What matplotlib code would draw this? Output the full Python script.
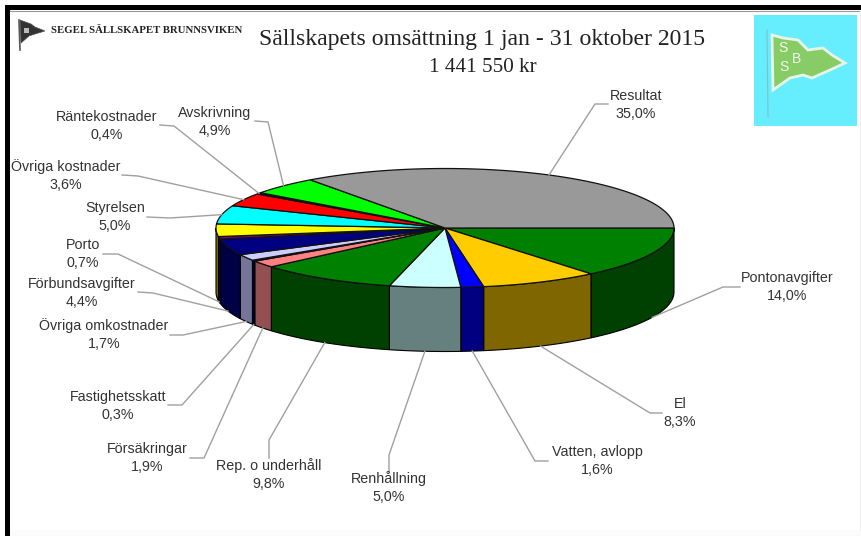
import numpy as np
import matplotlib
matplotlib.use('Agg')
from matplotlib import pyplot as plt
from matplotlib.patches import Rectangle

# andelar i procent, medurs fran klockan 3 (gul sektor saknar etikett i originalet)
names = ['Pontonavgifter', 'El', 'Vatten, avlopp', 'Renhållning', 'Rep. o underhåll',
         'Försäkringar', 'Fastighetsskatt', 'Övriga omkostnader', 'Förbundsavgifter',
         'Porto', '', 'Styrelsen', 'Övriga kostnader', 'Räntekostnader', 'Avskrivning',
         'Resultat']
shares = [14.0, 8.3, 1.6, 5.0, 9.8, 1.9, 0.3, 1.7, 4.4, 0.7, 3.4, 5.0, 3.6, 0.4, 4.9, 35.0]

top_colors = ['#008000', '#ffcc00', '#0000ff', '#ccffff', '#008000', '#ff8080', '#000080',
              '#ccccff', '#000080', '#800080', '#ffff00', '#00ffff', '#ff0000', '#000080',
              '#00ff00', '#999999']
side_colors = ['#004000', '#806600', '#000080', '#668080', '#004000', '#945050', '#000040',
               '#75759a', '#000045', '#400040', '#808000', '#008080', '#800000', '#000040',
               '#008000', '#4b4b4b']

# etikettplacering: textens mitt (x, y) och knack i linjen
label_pos = {
    'Pontonavgifter': (787, 278, [(740, 287), (723, 287)]),
    'El': (680, 404, [(662, 413), (650, 413)]),
    'Vatten, avlopp': (597, 452, [(548, 461), (535, 461)]),
    'Renhållning': (389, 479, [(389, 472), (389, 455)]),
    'Rep. o underhåll': (269, 466, [(269, 458), (269, 440)]),
    'Försäkringar': (147, 449, [(190, 458), (204, 458)]),
    'Fastighetsskatt': (118, 397, [(168, 405), (182, 405)]),
    'Övriga omkostnader': (104, 326, [(170, 335), (183, 335)]),
    'Förbundsavgifter': (82, 284, [(138, 292), (153, 293)]),
    'Porto': (83, 245, [(103, 254), (118, 254)]),
    'Styrelsen': (115, 208, [(147, 217), (170, 218)]),
    'Övriga kostnader': (66, 167, [(122, 175), (138, 176)]),
    'Räntekostnader': (107, 117, [(160, 125), (174, 126)]),
    'Avskrivning': (215, 113, [(255, 121), (268, 122)]),
    'Resultat': (636, 96, [(608, 104), (595, 104)]),
}

cx, cy, rx, ry, depth = 445, 228, 229, 59.5, 64


def rim(t, dy=0):
    return cx + rx * np.cos(t), cy + dy + ry * np.sin(t)


fig = plt.figure(figsize=(8.62, 5.36), dpi=100)
ax = fig.add_axes([0, 0, 1, 1])
ax.set_xlim(0, 862)
ax.set_ylim(536, 0)
ax.axis('off')

# ram
ax.add_patch(Rectangle((5, 5), 857, 5, color='black', lw=0))
ax.add_patch(Rectangle((5, 5), 5, 531, color='black', lw=0))
ax.plot([10, 862], [10.5, 10.5], color='#999999', lw=0.8)
ax.plot([860, 860], [11, 530], color='#eeeeee', lw=0.8)
ax.add_patch(Rectangle((10, 530), 852, 6, color='#fbfbfb', lw=0))

edges = np.deg2rad(np.cumsum([0] + shares) * 3.6)

# sidorna, bara framre halvan syns
for i in range(len(shares)):
    a, b = edges[i], min(edges[i + 1], np.pi)
    if a >= np.pi:
        continue
    t = np.linspace(a, b, 40)
    x, y = rim(t)
    xb, yb = rim(t[::-1], depth)
    ax.fill(np.r_[x, xb], np.r_[y, yb], facecolor=side_colors[i], edgecolor='black', lw=0.8)

# ovansidan
for i in range(len(shares)):
    t = np.linspace(edges[i], edges[i + 1], 80)
    x, y = rim(t)
    ax.fill(np.r_[cx, x], np.r_[cy, y], facecolor=top_colors[i], edgecolor='#111111', lw=0.9)

# etiketter och linjer
for i, name in enumerate(names):
    if name == '':
        continue
    tx, ty, knee = label_pos[name]
    mid = (edges[i] + edges[i + 1]) / 2
    ex, ey = rim(mid, depth if np.sin(mid) > 0 else 0)
    ax.plot([knee[0][0], knee[1][0], ex], [knee[0][1], knee[1][1], ey],
            color='#a0a0a0', lw=1.0, zorder=1, solid_joinstyle='miter')
    pct = f'{shares[i]:.1f}%'.replace('.', ',')
    ax.text(tx, ty, name, ha='center', va='center', fontsize=10.3,
            family='Liberation Sans', color='#333333')
    ax.text(tx, ty + 18, pct, ha='center', va='center', fontsize=10.3,
            family='Liberation Sans', color='#333333')

# rubrik
ax.text(482, 40, 'Sällskapets omsättning 1 jan - 31 oktober 2015', ha='center', va='center',
        fontsize=17.1, family='Liberation Serif', color='#222222')
ax.text(483, 67, '1 441 550 kr', ha='center', va='center',
        fontsize=15.2, family='Liberation Serif', color='#222222')
ax.text(51, 30, 'SEGEL SÄLLSKAPET BRUNNSVIKEN', ha='left', va='center',
        fontsize=7.75, family='Liberation Serif', weight='bold', color='#222222')

# liten svart flagga
ax.plot([19, 20], [20, 50], color='#555555', lw=1.2)
ax.fill([20, 31, 35, 45, 35, 29, 21], [20, 24, 27, 31, 34, 36, 43],
        facecolor='#333333', edgecolor='#555555', lw=0.5)
ax.fill([24, 29, 29, 24], [28, 28, 33, 33], facecolor='#bbbbbb', lw=0)

# SSB-loggan
ax.add_patch(Rectangle((754, 15), 103, 111, color='#66eeff', lw=0))
ax.plot([767, 768], [30, 117], color='#88bbcc', lw=0.8)
ax.fill([772, 783, 798, 808, 823, 832, 845, 830, 812, 803, 790, 773],
        [35, 38, 40, 50, 48, 55, 63, 70, 78, 75, 78, 90],
        facecolor='#88cc66', edgecolor='#e8f4e8', lw=2)
for s, sx, sy in [('S', 783, 48), ('S', 784, 67), ('B', 797, 59)]:
    ax.text(sx, sy, s, ha='center', va='center', fontsize=10,
            family='Liberation Sans', color='#f2f8f2')

fig.savefig('out.png', dpi=100)
